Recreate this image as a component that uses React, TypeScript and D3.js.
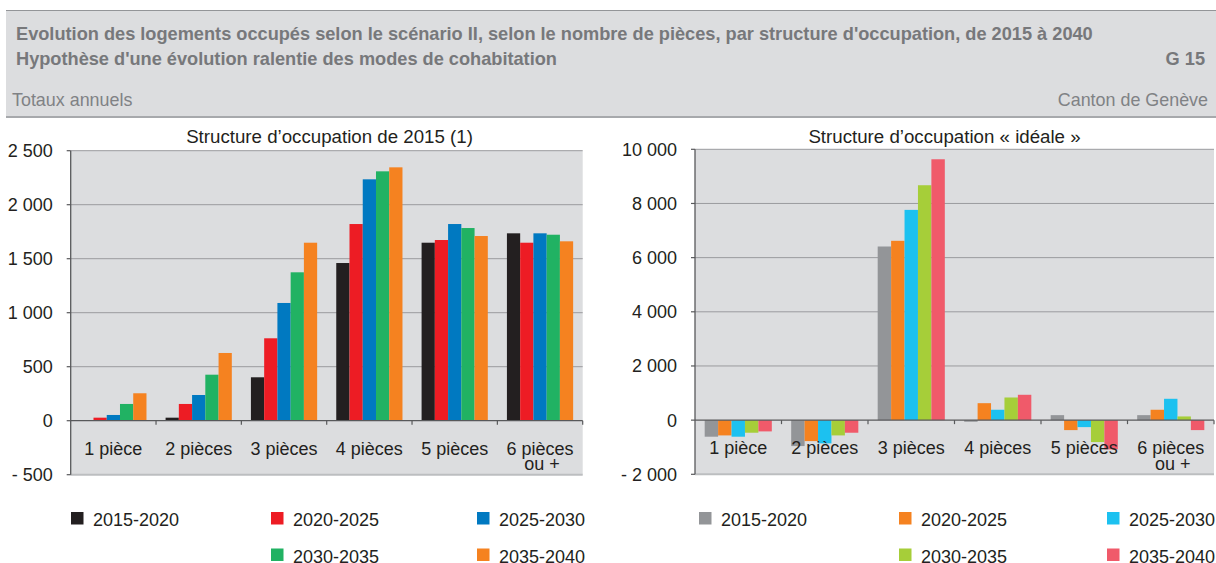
import React from "react";
import * as d3 from "d3";

const categories = ["1 pièce", "2 pièces", "3 pièces", "4 pièces", "5 pièces", "6 pièces|ou +"];
const periods = ["2015-2020", "2020-2025", "2025-2030", "2030-2035", "2035-2040"];

// Left panel: Structure d'occupation de 2015 (1)
const left2015_2020 = [5, 28, 402, 1460, 1648, 1735];
const left2020_2025 = [28, 155, 763, 1821, 1673, 1648];
const left2025_2030 = [53, 238, 1090, 2235, 1821, 1735];
const left2030_2035 = [155, 426, 1374, 2309, 1784, 1722];
const left2035_2040 = [254, 627, 1648, 2346, 1710, 1661];
const leftTicks = [-500, 0, 500, 1000, 1500, 2000, 2500];

// Right panel: Structure d'occupation « idéale »
const right2015_2020 = [-612, -958, 6411, -60, 184, 184];
const right2020_2025 = [-564, -774, 6621, 626, -368, 383];
const right2025_2030 = [-612, -858, 7763, 383, -258, 788];
const right2030_2035 = [-465, -564, 8673, 836, -810, 136];
const right2035_2040 = [-416, -465, 9632, 936, -1080, -368];
const rightTicks = [-2000, 0, 2000, 4000, 6000, 8000, 10000];

const leftColors = ["#231f20", "#ed1c24", "#0079c1", "#21b263", "#f58220"];
const rightColors = ["#939598", "#f58220", "#1cc1f0", "#a6ce39", "#f05a6a"];

const FONT = "'Liberation Sans', Arial, Helvetica, sans-serif";
const fmt = (v: number) => {
  const s = d3.format(",")(Math.abs(v)).replace(/,/g, " ");
  return v < 0 ? "- " + s : s;
};

type PanelProps = {
  series: number[][];
  colors: string[];
  ticks: number[];
  x0: number;
  x1: number;
  yTop: number;
  yBot: number;
  title: string;
  titleX: number;
  legendCols: number[];
};

function Panel(p: PanelProps) {
  const y = d3.scaleLinear().domain([p.ticks[0], p.ticks[p.ticks.length - 1]]).range([p.yBot, p.yTop]);
  const xb = d3.scaleBand<string>().domain(categories).range([p.x0, p.x1]).padding(0);
  const bw = xb.bandwidth();
  const pad = bw * 0.112;
  const xs = d3.scaleBand<string>().domain(periods).range([pad, bw - pad]).padding(0);
  const y0 = y(0);
  const slots = [[0, 0], [1, 0], [2, 0], [1, 1], [2, 1]];
  return (
    <g>
      <rect x={p.x0} y={p.yTop} width={p.x1 - p.x0} height={p.yBot - p.yTop} fill="#dcdddf" />
      {p.ticks.filter((t) => t !== 0 && t !== p.ticks[0]).map((t) => (
        <line key={t} x1={p.x0} x2={p.x1} y1={y(t)} y2={y(t)} stroke="#9a9b9e" strokeWidth={1} />
      ))}
      <line x1={p.x0} x2={p.x1} y1={p.yBot} y2={p.yBot} stroke="#bcbec0" strokeWidth={2} />
      {p.series.map((vals, si) =>
        vals.map((v, ci) => {
          const c = categories[ci];
          const bx = (xb(c) as number) + (xs(periods[si]) as number);
          return (
            <rect
              key={si + "-" + ci}
              x={bx}
              y={Math.min(y(v), y0)}
              width={xs.bandwidth()}
              height={Math.abs(y(v) - y0)}
              fill={p.colors[si]}
            />
          );
        })
      )}
      <line x1={p.x0} x2={p.x1} y1={y0} y2={y0} stroke="#58595b" strokeWidth={1.3} />
      {categories.map((c) => (
        <line key={c} x1={(xb(c) as number) + bw} x2={(xb(c) as number) + bw} y1={y0} y2={y0 + 4} stroke="#58595b" strokeWidth={1.2} />
      ))}
      <line x1={p.x0} x2={p.x0} y1={p.yTop} y2={p.yBot} stroke="#58595b" strokeWidth={1.3} />
      {p.ticks.map((t) => (
        <g key={t}>
          <line x1={p.x0 - 4} x2={p.x0} y1={y(t)} y2={y(t)} stroke="#58595b" strokeWidth={1.2} />
          <text x={p.x0 - 18} y={y(t) + 6.5} textAnchor="end" fontSize={18} fill="#231f20" fontFamily={FONT}>
            {fmt(t)}
          </text>
        </g>
      ))}
      {categories.map((c) => {
        const lines = c.split("|");
        const cx = (xb(c) as number) + bw / 2;
        return (
          <text key={c} textAnchor="middle" fontSize={18} fill="#231f20" fontFamily={FONT}>
            {lines.map((l, k) => (
              <tspan key={k} x={cx + (k === 1 ? 2 : 0)} y={y0 + 34 + k * 15.5}>
                {l}
              </tspan>
            ))}
          </text>
        );
      })}
      <text x={p.titleX} y={143} textAnchor="middle" fontSize={18.7} fill="#231f20" fontFamily={FONT}>
        {p.title}
      </text>
      {periods.map((per, i) => {
        const [col, row] = slots[i];
        const lx = p.legendCols[col];
        const ly = 512 + row * 36.5;
        return (
          <g key={per}>
            <rect x={lx} y={ly} width={12.5} height={12.5} fill={p.colors[i]} />
            <text x={lx + 22} y={ly + 14} fontSize={18} fill="#231f20" fontFamily={FONT}>
              {per}
            </text>
          </g>
        );
      })}
    </g>
  );
}

export default function App() {
  return (
    <svg width={1216} height={563} style={{ position: "absolute", left: 0, top: 0, background: "#fff" }}>
      <rect x={6} y={10} width={1210} height={107} fill="#dcdddf" />
      <line x1={6} x2={1216} y1={10.5} y2={10.5} stroke="#939598" strokeWidth={1} />
      <line x1={6} x2={1216} y1={117} y2={117} stroke="#a7a9ac" strokeWidth={2} />
      <text x={16} y={39.5} fontSize={18.2} fontWeight="bold" fill="#77787b" fontFamily={FONT}>
        Evolution des logements occupés selon le scénario II, selon le nombre de pièces, par structure d'occupation, de 2015 à 2040
      </text>
      <text x={16} y={64.5} fontSize={18.2} fontWeight="bold" fill="#77787b" fontFamily={FONT}>
        Hypothèse d'une évolution ralentie des modes de cohabitation
      </text>
      <text x={1205} y={64.5} textAnchor="end" fontSize={18.2} fontWeight="bold" fill="#77787b" fontFamily={FONT}>
        G 15
      </text>
      <text x={12} y={106} fontSize={17.9} fill="#808285" fontFamily={FONT}>
        Totaux annuels
      </text>
      <text x={1208} y={106} textAnchor="end" fontSize={17.9} fill="#808285" fontFamily={FONT}>
        Canton de Genève
      </text>
      <Panel
        series={[left2015_2020, left2020_2025, left2025_2030, left2030_2035, left2035_2040]}
        colors={leftColors}
        ticks={leftTicks}
        x0={70.7}
        x1={582.7}
        yTop={150.7}
        yBot={474.7}
        title="Structure d’occupation de 2015 (1)"
        titleX={329.5}
        legendCols={[71, 271, 477]}
      />
      <Panel
        series={[right2015_2020, right2020_2025, right2025_2030, right2030_2035, right2035_2040]}
        colors={rightColors}
        ticks={rightTicks}
        x0={695}
        x1={1214}
        yTop={149.3}
        yBot={474.3}
        title="Structure d’occupation « idéale »"
        titleX={944.5}
        legendCols={[699, 899, 1107]}
      />
    </svg>
  );
}
